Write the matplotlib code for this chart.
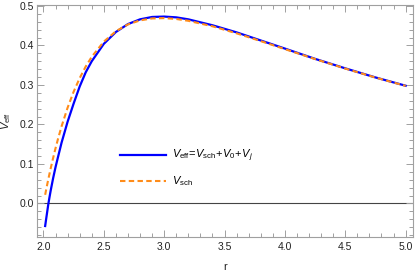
import matplotlib
matplotlib.use('Agg')
import matplotlib.pyplot as plt
from matplotlib.ticker import MultipleLocator

plt.rcParams['font.family'] = ['Liberation Sans', 'DejaVu Sans']
plt.rcParams['mathtext.fontset'] = 'custom'
plt.rcParams['mathtext.rm'] = 'Liberation Sans'
plt.rcParams['mathtext.it'] = 'Liberation Sans:italic'

# values
r_sch = [2.014, 2.02, 2.03, 2.04, 2.05, 2.06, 2.08, 2.10, 2.12, 2.15, 2.20, 2.25, 2.30,
         2.35, 2.40, 2.50, 2.60, 2.70, 2.80, 2.90, 3.00, 3.10, 3.20, 3.40, 3.60, 3.80,
         4.00, 4.25, 4.50, 4.75, 5.00]
v_sch = [0.022, 0.0315, 0.0466, 0.0612, 0.0753, 0.089, 0.1152, 0.1399, 0.163, 0.1952,
         0.2425, 0.2829, 0.3173, 0.3466, 0.3713, 0.4096, 0.4359, 0.4531, 0.4633, 0.4683,
         0.4691, 0.4669, 0.4623, 0.4484, 0.4306, 0.4109, 0.3906, 0.3655, 0.3414, 0.3187,
         0.2976]

r_eff = [2.014, 2.02, 2.03, 2.04, 2.05, 2.06, 2.08, 2.10, 2.12, 2.15, 2.20, 2.25, 2.30,
         2.35, 2.40, 2.50, 2.60, 2.70, 2.80, 2.90, 3.00, 3.10, 3.20, 3.40, 3.60, 3.80,
         4.00, 4.25, 4.50, 4.75, 5.00]
v_eff = [-0.057, -0.044, -0.023, -0.002, 0.016, 0.033, 0.064, 0.092, 0.117, 0.154,
         0.207, 0.253, 0.296, 0.332, 0.360, 0.404, 0.434, 0.454, 0.466, 0.472,
         0.473, 0.471, 0.466, 0.451, 0.433, 0.4125, 0.392, 0.366, 0.342, 0.319, 0.298]

lab_eff = r'$V_{\rm eff}\!=\!V_{\rm sch}\!+\!V_0\!+\!V_j$'
lab_sch = r'$V_{\rm sch}$'

fig = plt.figure(figsize=(4.15, 2.73), dpi=100)
ax = fig.add_axes([0.0899, 0.133, 0.905, 0.849])

ax.axhline(0, color='#444444', lw=0.8, zorder=1)
ax.plot(r_eff, v_eff, color='#0000ff', lw=1.6, label=lab_eff, zorder=2)
ax.plot(r_sch, v_sch, color='#ff8c1a', lw=1.5, dashes=(2.6, 1.6), label=lab_sch, zorder=3)

ax.set_xlim(1.949, 5.06)
ax.set_ylim(-0.084, 0.5025)
ax.xaxis.set_major_locator(MultipleLocator(0.5))
ax.xaxis.set_minor_locator(MultipleLocator(0.1))
ax.yaxis.set_major_locator(MultipleLocator(0.1))
ax.yaxis.set_minor_locator(MultipleLocator(0.02))
ax.xaxis.set_major_formatter(matplotlib.ticker.FormatStrFormatter('%.1f'))
ax.yaxis.set_major_formatter(matplotlib.ticker.FormatStrFormatter('%.1f'))

for s in ax.spines.values():
    s.set_color('#a0a0a0')
    s.set_linewidth(0.8)
ax.tick_params(which='both', direction='in', top=True, right=True, color='#a0a0a0',
               labelsize=7.5, labelcolor='#222222', width=0.7)
ax.tick_params(which='major', length=5)
ax.tick_params(which='minor', length=2.8)
ax.tick_params(axis='x', pad=4)
ax.tick_params(axis='y', pad=2.5)

ax.set_xlabel('r', fontsize=8, color='#222222')
ax.set_ylabel(r'$V_{\rm eff}$', fontsize=8, color='#222222')
ax.xaxis.set_label_coords(0.5, -0.11)
ax.yaxis.set_label_coords(-0.064, 0.5)

ax.legend(loc='upper left', bbox_to_anchor=(120 / 415, 1 - 148 / 273),
          bbox_transform=fig.transFigure, frameon=False, fontsize=8,
          handlelength=4.1, handletextpad=0.6, labelspacing=0.9,
          borderpad=0, borderaxespad=0)

fig.savefig('out.png', dpi=100)
